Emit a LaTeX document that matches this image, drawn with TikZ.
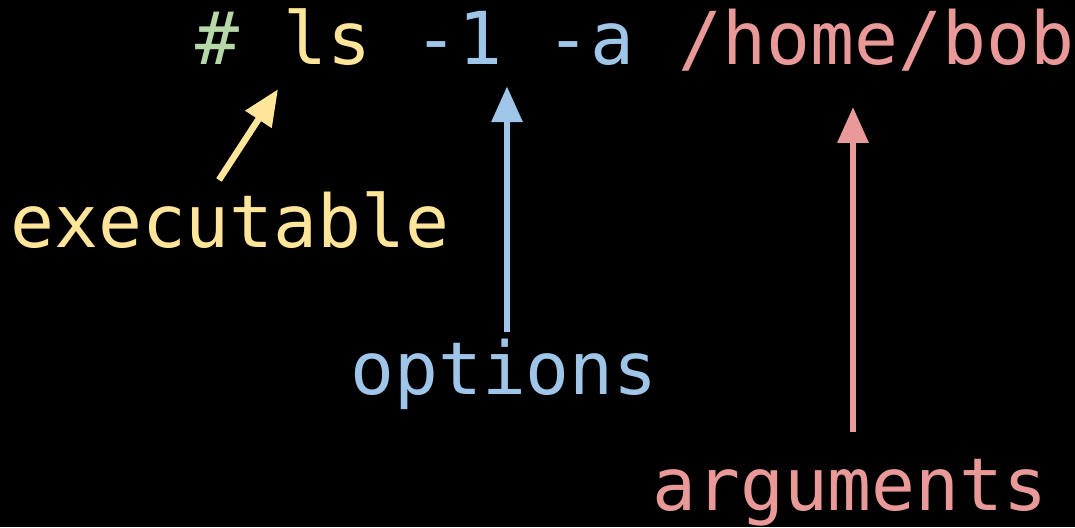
\documentclass[tikz,border=0pt]{standalone}
\usepackage{fontspec}
\setmonofont{DejaVu Sans Mono}
\usetikzlibrary{arrows.meta,positioning}
\definecolor{hashgreen}{HTML}{B6D7A8}
\definecolor{exeyellow}{HTML}{FFE599}
\definecolor{optblue}{HTML}{9FC5E8}
\definecolor{argred}{HTML}{EA9999}

\begin{document}
\begin{tikzpicture}[x=1pt, y=1pt,
    font=\ttfamily\fontsize{73}{73}\selectfont,
    word/.style={inner sep=0pt, anchor=base west},
    pointer/.style={line width=6.5pt, -{Triangle[length=36pt, width=30pt]}}]
  \fill[black] (0,0) rectangle (1075,527);
  \useasboundingbox (0,0) rectangle (1075,527);
  % command line
  \node[word, text=hashgreen] (hash) at (195,462) {\#};
  \node[word, text=exeyellow] (ls) at (282.9,462) {ls};
  \node[word, text=optblue] (opts) at (414.75,462) {-1 -a};
  \node[word, text=argred] (path) at (678.5,462) {/home/bob};
  % labels
  \node[word, text=exeyellow] (exe) at (10,279) {executable};
  \node[word, text=optblue] (optlabel) at (350,132) {options};
  \node[word, text=argred] (arglabel) at (652,17) {arguments};
  % pointers
  \draw[pointer, exeyellow] ([shift={(209,12)}]exe.north west) -- ([shift={(-4.9,-23)}]ls.south west);
  \draw[pointer, optblue] ([shift={(157,7)}]optlabel.north west) -- ([shift={(92.25,-20)}]opts.south west);
  \draw[pointer, argred] ([shift={(201,27)}]arglabel.north west) -- ([shift={(174.5,-35)}]path.south west);
\end{tikzpicture}
\end{document}
